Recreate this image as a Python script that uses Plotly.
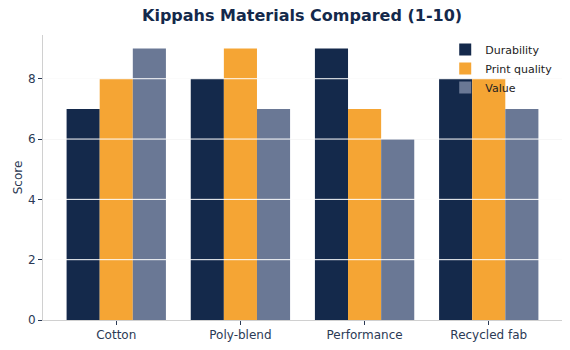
import plotly.graph_objects as go

categories = ["Cotton", "Poly-blend", "Performance", "Recycled fab"]
durability = [7, 8, 9, 8]
print_quality = [8, 9, 7, 8]
value = [9, 7, 6, 7]
series_names = ["Durability", "Print quality", "Value"]
colors = ["#14294b", "#f5a534", "#6a7895"]
y_ticks = [0, 2, 4, 6, 8]

text_color = "#2b3a55"
fig = go.Figure()
for name, vals, col in zip(series_names, [durability, print_quality, value], colors):
    fig.add_trace(go.Bar(x=categories, y=vals, name=name, marker=dict(color=col, line=dict(width=0))))

shapes = [dict(type="line", xref="paper", x0=0, x1=1, yref="y", y0=t, y1=t,
               line=dict(color="white", width=1), layer="above") for t in y_ticks[1:]]

fig.update_layout(
    width=570, height=350,
    margin=dict(l=43, r=8, t=35, b=30),
    paper_bgcolor="white", plot_bgcolor="white",
    barmode="group", bargap=0.2, bargroupgap=0,
    font=dict(family="DejaVu Sans", size=12, color=text_color),
    title=dict(text="<b>Kippahs Materials Compared (1-10)</b>", x=0.53, xanchor="center",
               y=0.955, yanchor="middle", font=dict(size=16, color="#14294b")),
    xaxis=dict(range=[-0.59, 3.59], showline=True, linecolor="#d0d0d0", linewidth=1,
               ticks="outside", ticklen=4, tickcolor=text_color, showgrid=False,
               tickfont=dict(size=12, color=text_color)),
    yaxis=dict(range=[0, 9.45], tickvals=y_ticks, showline=True, linecolor="#d0d0d0", linewidth=1,
               ticks="outside", ticklen=4, tickcolor=text_color, showgrid=True, gridcolor="#ebebeb",
               zeroline=False, title=dict(text="Score", font=dict(size=12, color=text_color), standoff=2),
               tickfont=dict(size=12, color=text_color)),
    legend=dict(x=0.775, y=1.0, xanchor="left", yanchor="top", bgcolor="rgba(255,255,255,0)",
                font=dict(size=11, color="#222222"), tracegroupgap=0, itemwidth=30),
    shapes=shapes,
)
fig.write_html("out.html")
